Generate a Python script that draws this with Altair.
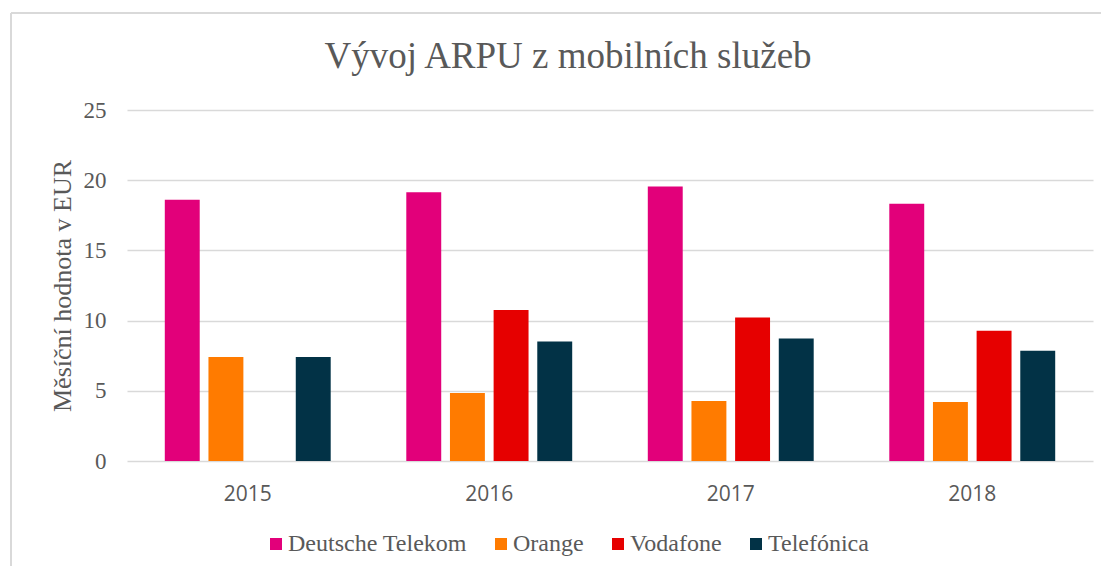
import altair as alt
import pandas as pd

years = ["2015", "2016", "2017", "2018"]
operators = ["Deutsche Telekom", "Orange", "Vodafone", "Telefónica"]
colors = ["#E2007A", "#FF7B00", "#E60000", "#023246"]

deutsche_telekom = [18.6, 19.15, 19.55, 18.33]
orange = [7.4, 4.85, 4.27, 4.2]
vodafone = [None, 10.75, 10.22, 9.27]
telefonica = [7.4, 8.52, 8.72, 7.86]

series = [deutsche_telekom, orange, vodafone, telefonica]
rows = []
for op, vals in zip(operators, series):
    for y, v in zip(years, vals):
        if v is not None:
            rows.append({"Rok": y, "Operátor": op, "ARPU": v})
df = pd.DataFrame(rows)

GRAY = "#595959"
SERIF = "Liberation Serif"

bars = alt.Chart(df).mark_bar().encode(
    x=alt.X("Rok:N", sort=years,
            scale=alt.Scale(paddingInner=0.313, paddingOuter=0.1565),
            axis=alt.Axis(title=None, labelAngle=0, domain=False, ticks=False,
                          labelFont="Open Sans", labelFontSize=21, labelColor=GRAY,
                          labelPadding=22)),
    xOffset=alt.XOffset("Operátor:N", sort=operators,
                        scale=alt.Scale(domain=operators, paddingInner=0.2, paddingOuter=0)),
    y=alt.Y("ARPU:Q", scale=alt.Scale(domain=[0, 25]),
            axis=alt.Axis(title="Měsíční hodnota v EUR", values=[0, 5, 10, 15, 20, 25],
                          domain=False, ticks=False, grid=True, gridColor="#D9D9D9",
                          gridWidth=1.3, labelFont=SERIF, labelFontSize=23,
                          labelColor=GRAY, labelPadding=21, titleFont=SERIF,
                          titleFontSize=26, titleFontWeight="normal", titleColor=GRAY,
                          titlePadding=8)),
    color=alt.Color("Operátor:N", sort=operators,
                    scale=alt.Scale(domain=operators, range=colors),
                    legend=alt.Legend(title=None, orient="none", direction="horizontal",
                                      legendX=137, legendY=422, columns=4,
                                      symbolType="square", symbolSize=144,
                                      symbolStrokeWidth=0, labelFont=SERIF,
                                      labelFontSize=24, labelColor=GRAY, labelLimit=400,
                                      labelOffset=0, columnPadding=22)),
)

top_border = alt.Chart(df).mark_rule(color="#D9D9D9", strokeWidth=1.3).encode(
    x=alt.value(-116), x2=alt.value(974), y=alt.value(-97)
)
left_border = alt.Chart(df).mark_rule(color="#D9D9D9", strokeWidth=1.3).encode(
    x=alt.value(-116), y=alt.value(-97), y2=alt.value(456)
)

chart = alt.layer(bars, top_border, left_border).properties(
    width=966,
    height=351,
    autosize=alt.AutoSizeParams(type="none"),
    padding={"left": 119, "top": 102, "right": 8, "bottom": 107},
    title=alt.TitleParams("Vývoj ARPU z mobilních služeb", font=SERIF, fontSize=37,
                          fontWeight="normal", color=GRAY, anchor="middle", dx=-42,
                          baseline="alphabetic", offset=-54, dy=39),
).configure_view(stroke=None)

chart.save("out.html", embed_options={"renderer": "svg", "actions": False})
